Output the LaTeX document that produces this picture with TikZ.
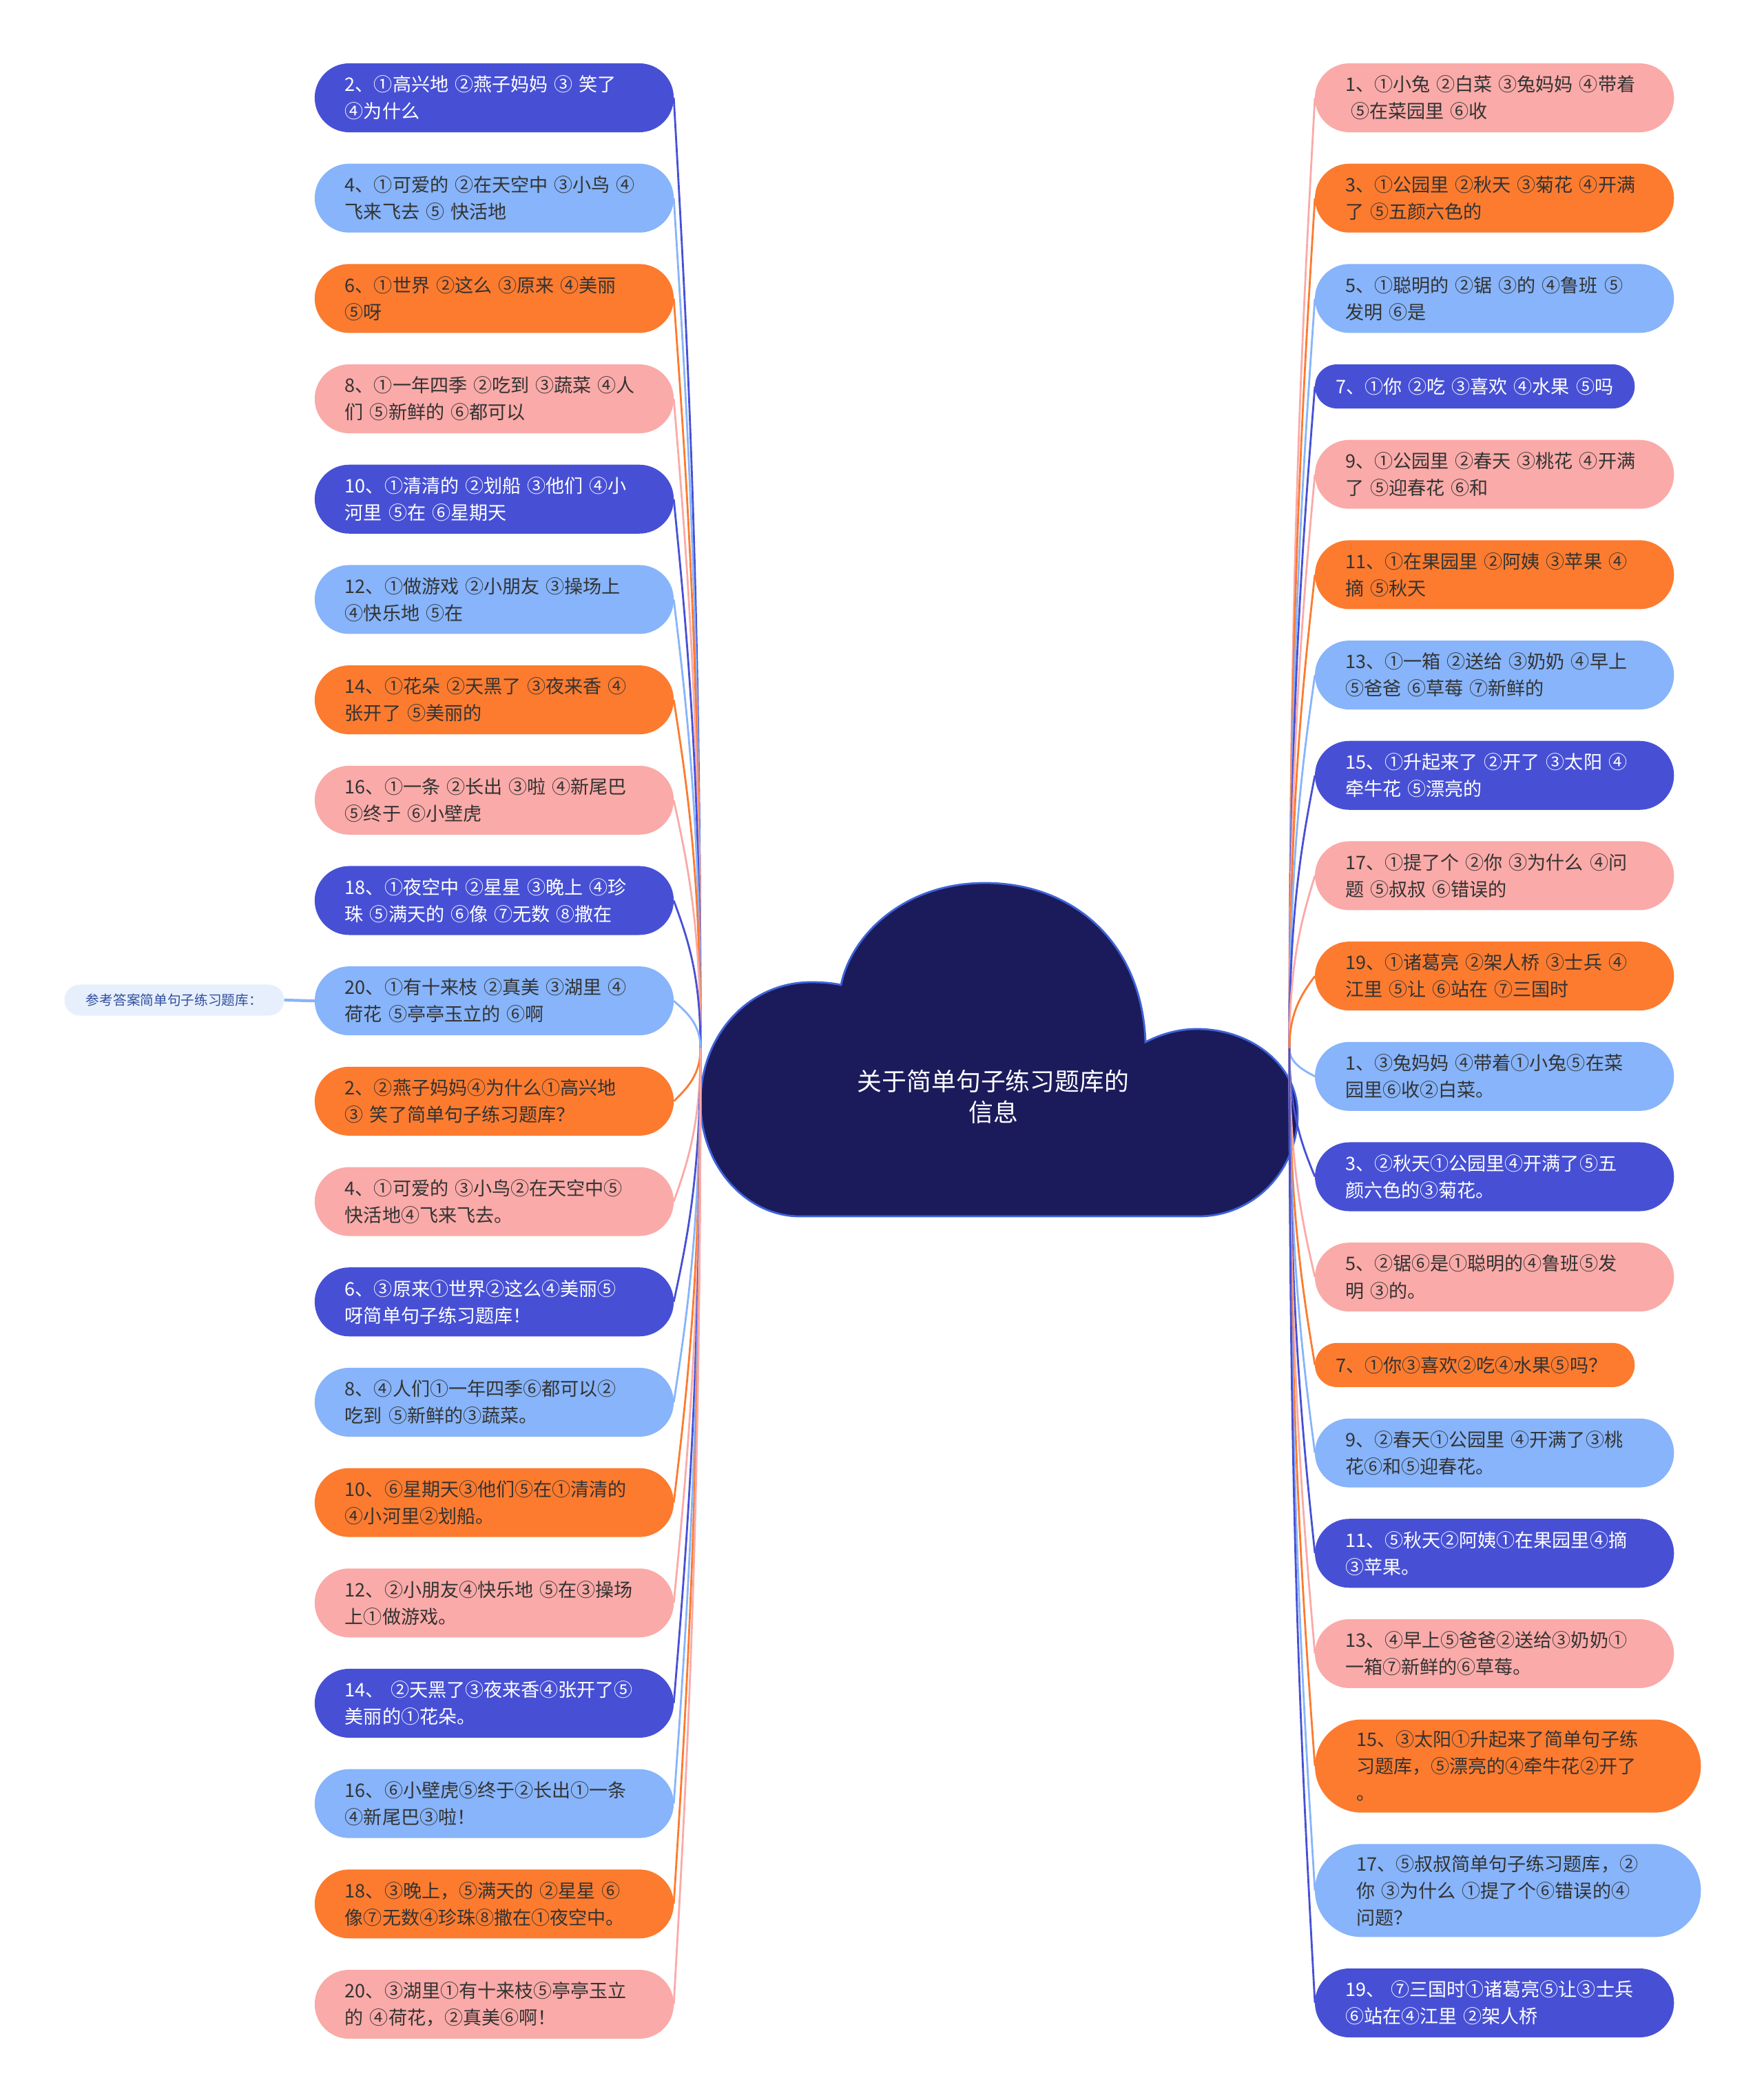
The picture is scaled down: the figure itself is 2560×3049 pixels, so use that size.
\documentclass[tikz,border=0pt]{standalone}
\usepackage{fontspec}
\setmainfont{Noto Sans CJK SC}
\usetikzlibrary{positioning, calc}
\definecolor{cdark}{HTML}{4750D5}
\definecolor{clight}{HTML}{87B4FA}
\definecolor{corange}{HTML}{FC7B2F}
\definecolor{cpink}{HTML}{FAAAA8}
\definecolor{cnavy}{HTML}{1B1B5C}
\definecolor{cedge}{HTML}{3F63D8}
\definecolor{cnote}{HTML}{E7EFFC}
\definecolor{cnotetext}{HTML}{2F4E9E}
\definecolor{ctext}{HTML}{333333}
\tikzset{
  topic/.style={rectangle, rounded corners=0.5cm, minimum height=1cm, text width=4.33cm,
    inner xsep=0.44cm, inner ysep=0pt, outer sep=0pt, align=left, text=ctext,
    font=\fontsize{7.7}{11.1}\selectfont},
  dk/.style={topic, fill=cdark, text=white},
  lt/.style={topic, fill=clight},
  og/.style={topic, fill=corange},
  pk/.style={topic, fill=cpink},
  short/.style={minimum height=0.64cm, rounded corners=0.32cm, text width=4.04cm, inner xsep=0.3cm},
  tall/.style={minimum height=1.35cm, rounded corners=0.675cm, text width=4.4cm, inner xsep=0.6cm},
  branch/.style={line width=0.8pt, to path={.. controls ($(\tikztostart)!0.5!(\tikztostart |- \tikztotarget)$)
    and ($(\tikztotarget)!0.25!(\tikztostart)+(#1,0)$) .. (\tikztotarget)}},
}
\begin{document}
\begin{tikzpicture}[x=0.01cm, y=-0.01cm, node distance=4.56mm]
\useasboundingbox (0,0) rectangle (2560,3049);

% centre cloud
\filldraw[fill=cnavy, draw=cedge, line width=0.8pt] (1161,1766) -- (1740,1766)
  .. controls (1820,1766) and (1884,1700) .. (1884,1618)
  .. controls (1884,1545) and (1815,1494) .. (1738,1494)
  .. controls (1710,1494) and (1684,1502) .. (1663,1513)
  .. controls (1658,1370) and (1560,1282) .. (1430,1282)
  .. controls (1310,1282) and (1235,1360) .. (1221,1430)
  .. controls (1207,1427) and (1192,1426) .. (1178,1426)
  .. controls (1085,1426) and (1017,1505) .. (1017,1600)
  .. controls (1017,1695) and (1085,1766) .. (1161,1766) -- cycle;
\node[text=white, align=center, font=\fontsize{10.2}{12.8}\selectfont] (title) at (1442,1592) {关于简单句子练习题库的\\信息};
\coordinate (hubL) at (1017,1522);
\coordinate (hubR) at (1872,1522);

% left side
\node[dk] (l2) at (717.5,142) {2、①高兴地 ②燕子妈妈 ③ 笑了\\④为什么};
\node[lt, below=of l2] (l4) {4、①可爱的 ②在天空中 ③小鸟 ④\\飞来飞去 ⑤ 快活地};
\node[og, below=of l4] (l6) {6、①世界 ②这么 ③原来 ④美丽\\⑤呀};
\node[pk, below=of l6] (l8) {8、①一年四季 ②吃到 ③蔬菜 ④人\\们 ⑤新鲜的 ⑥都可以};
\node[dk, below=of l8] (l10) {10、①清清的 ②划船 ③他们 ④小\\河里 ⑤在 ⑥星期天};
\node[lt, below=of l10] (l12) {12、①做游戏 ②小朋友 ③操场上\\④快乐地 ⑤在};
\node[og, below=of l12] (l14) {14、①花朵 ②天黑了 ③夜来香 ④\\张开了 ⑤美丽的};
\node[pk, below=of l14] (l16) {16、①一条 ②长出 ③啦 ④新尾巴\\⑤终于 ⑥小壁虎};
\node[dk, below=of l16] (l18) {18、①夜空中 ②星星 ③晚上 ④珍\\珠 ⑤满天的 ⑥像 ⑦无数 ⑧撒在};
\node[lt, below=of l18] (l20) {20、①有十来枝 ②真美 ③湖里 ④\\荷花 ⑤亭亭玉立的 ⑥啊};
\node[og, below=of l20] (la2) {2、②燕子妈妈④为什么①高兴地\\③ 笑了简单句子练习题库？};
\node[pk, below=of la2] (la4) {4、①可爱的 ③小鸟②在天空中⑤\\快活地④飞来飞去。};
\node[dk, below=of la4] (la6) {6、③原来①世界②这么④美丽⑤\\呀简单句子练习题库！};
\node[lt, below=of la6] (la8) {8、④人们①一年四季⑥都可以②\\吃到 ⑤新鲜的③蔬菜。};
\node[og, below=of la8] (la10) {10、⑥星期天③他们⑤在①清清的\\④小河里②划船。};
\node[pk, below=of la10] (la12) {12、②小朋友④快乐地 ⑤在③操场\\上①做游戏。};
\node[dk, below=of la12] (la14) {14、 ②天黑了③夜来香④张开了⑤\\美丽的①花朵。};
\node[lt, below=of la14] (la16) {16、⑥小壁虎⑤终于②长出①一条\\④新尾巴③啦！};
\node[og, below=of la16] (la18) {18、③晚上，⑤满天的 ②星星 ⑥\\像⑦无数④珍珠⑧撒在①夜空中。};
\node[pk, below=of la18] (la20) {20、③湖里①有十来枝⑤亭亭玉立\\的 ④荷花，②真美⑥啊！};

\node[fill=cnote, text=cnotetext, rounded corners=0.225cm, minimum height=0.45cm, minimum width=3.19cm,
  outer sep=0pt, font=\fontsize{5.6}{6.5}\selectfont] (note) at (253,1452) {参考答案简单句子练习题库：};
\draw[clight, line width=1.2pt] (note.east) -- (l20.west);

% right side
\node[pk, anchor=west] (r1) at (1909,142) {1、①小兔 ②白菜 ③兔妈妈 ④带着\\\hspace*{0.3em}⑤在菜园里 ⑥收};
\node[og, anchor=north west] (r3) at ([yshift=-4.56mm]r1.south west) {3、①公园里 ②秋天 ③菊花 ④开满\\了 ⑤五颜六色的};
\node[lt, anchor=north west] (r5) at ([yshift=-4.56mm]r3.south west) {5、①聪明的 ②锯 ③的 ④鲁班 ⑤\\发明 ⑥是};
\node[dk, short, anchor=north west] (r7) at ([yshift=-4.56mm]r5.south west) {7、①你 ②吃 ③喜欢 ④水果 ⑤吗};
\node[pk, anchor=north west] (r9) at ([yshift=-4.56mm]r7.south west) {9、①公园里 ②春天 ③桃花 ④开满\\了 ⑤迎春花 ⑥和};
\node[og, anchor=north west] (r11) at ([yshift=-4.56mm]r9.south west) {11、①在果园里 ②阿姨 ③苹果 ④\\摘 ⑤秋天};
\node[lt, anchor=north west] (r13) at ([yshift=-4.56mm]r11.south west) {13、①一箱 ②送给 ③奶奶 ④早上\\⑤爸爸 ⑥草莓 ⑦新鲜的};
\node[dk, anchor=north west] (r15) at ([yshift=-4.56mm]r13.south west) {15、①升起来了 ②开了 ③太阳 ④\\牵牛花 ⑤漂亮的};
\node[pk, anchor=north west] (r17) at ([yshift=-4.56mm]r15.south west) {17、①提了个 ②你 ③为什么 ④问\\题 ⑤叔叔 ⑥错误的};
\node[og, anchor=north west] (r19) at ([yshift=-4.56mm]r17.south west) {19、①诸葛亮 ②架人桥 ③士兵 ④\\江里 ⑤让 ⑥站在 ⑦三国时};
\node[lt, anchor=north west] (ra1) at ([yshift=-4.56mm]r19.south west) {1、③兔妈妈 ④带着①小兔⑤在菜\\园里⑥收②白菜。};
\node[dk, anchor=north west] (ra3) at ([yshift=-4.56mm]ra1.south west) {3、②秋天①公园里④开满了⑤五\\颜六色的③菊花。};
\node[pk, anchor=north west] (ra5) at ([yshift=-4.56mm]ra3.south west) {5、②锯⑥是①聪明的④鲁班⑤发\\明 ③的。};
\node[og, short, anchor=north west] (ra7) at ([yshift=-4.56mm]ra5.south west) {7、①你③喜欢②吃④水果⑤吗？};
\node[lt, anchor=north west] (ra9) at ([yshift=-4.56mm]ra7.south west) {9、②春天①公园里 ④开满了③桃\\花⑥和⑤迎春花。};
\node[dk, anchor=north west] (ra11) at ([yshift=-4.56mm]ra9.south west) {11、⑤秋天②阿姨①在果园里④摘\\③苹果。};
\node[pk, anchor=north west] (ra13) at ([yshift=-4.56mm]ra11.south west) {13、④早上⑤爸爸②送给③奶奶①\\一箱⑦新鲜的⑥草莓。};
\node[og, tall, anchor=north west] (ra15) at ([yshift=-4.56mm]ra13.south west) {15、③太阳①升起来了简单句子练\\习题库，⑤漂亮的④牵牛花②开了\\。};
\node[lt, tall, anchor=north west] (ra17) at ([yshift=-4.56mm]ra15.south west) {17、⑤叔叔简单句子练习题库，②\\你 ③为什么 ①提了个⑥错误的④\\问题？};
\node[dk, anchor=north west] (ra19) at ([yshift=-4.56mm]ra17.south west) {19、 ⑦三国时①诸葛亮⑤让③士兵\\⑥站在④江里 ②架人桥};

% branches
\foreach \nd/\col in {l2/cdark, l4/clight, l6/corange, l8/cpink, l10/cdark, l12/clight, l14/corange,
  l16/cpink, l18/cdark, l20/clight, la2/corange, la4/cpink, la6/cdark, la8/clight, la10/corange,
  la12/cpink, la14/cdark, la16/clight, la18/corange, la20/cpink}
  \draw[\col, branch=10] (hubL) to (\nd.east);
\foreach \nd/\col in {r1/cpink, r3/corange, r5/clight, r7/cdark, r9/cpink, r11/corange, r13/clight,
  r15/cdark, r17/cpink, r19/corange, ra1/clight, ra3/cdark, ra5/cpink, ra7/corange, ra9/clight,
  ra11/cdark, ra13/cpink, ra15/corange, ra17/clight, ra19/cdark}
  \draw[\col, branch=-10] (hubR) to (\nd.west);
\end{tikzpicture}
\end{document}
